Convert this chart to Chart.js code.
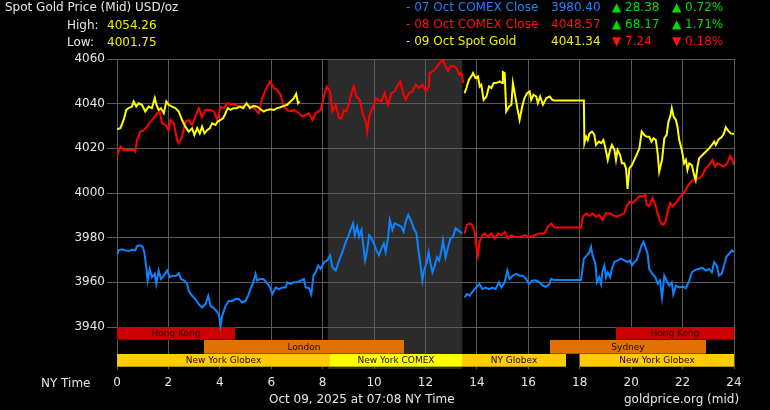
<!DOCTYPE html>
<html>
<head>
<meta charset="utf-8">
<title>Spot Gold Price</title>
<script src="https://cdn.jsdelivr.net/npm/chart.js@4.4.0/dist/chart.umd.min.js"></script>
<style>
  html, body { margin: 0; padding: 0; background: #000; }
  #wrap { position: relative; width: 770px; height: 410px; font-family: "DejaVu Sans", sans-serif; font-size: 12px; color: #e6e6e6; }
  #wrap canvas { position: absolute; left: 0; top: 0; }
  .t { position: absolute; white-space: nowrap; line-height: 14px; }
  .yel { color: #f0f000; }
  .blu { color: #1a86ff; }
  .red { color: #ff1010; }
  .grn { color: #00dd00; }
</style>
</head>
<body>
<div id="wrap">
  <canvas id="goldChart" width="770" height="410"></canvas>

  <div class="t" style="left:5px;top:0px">Spot Gold Price (Mid) USD/oz</div>
  <div class="t" style="left:67px;top:18px">High:</div>
  <div class="t yel" style="left:107px;top:18px">4054.26</div>
  <div class="t" style="left:67px;top:35px">Low:</div>
  <div class="t yel" style="left:107px;top:35px">4001.75</div>

  <div class="t blu" style="left:406px;top:0px">- 07 Oct COMEX Close</div>
  <div class="t blu" style="left:551px;top:0px">3980.40</div>
  <div class="t grn" style="left:612px;top:0px">▲ 28.38</div>
  <div class="t grn" style="left:672px;top:0px">▲ 0.72%</div>

  <div class="t red" style="left:406px;top:17px">- 08 Oct COMEX Close</div>
  <div class="t red" style="left:551px;top:17px">4048.57</div>
  <div class="t grn" style="left:612px;top:17px">▲ 68.17</div>
  <div class="t grn" style="left:672px;top:17px">▲ 1.71%</div>

  <div class="t yel" style="left:406px;top:34px">- 09 Oct Spot Gold</div>
  <div class="t yel" style="left:551px;top:34px">4041.34</div>
  <div class="t red" style="left:612px;top:34px">▼ 7.24</div>
  <div class="t red" style="left:672px;top:34px">▼ 0.18%</div>

  <div class="t" style="left:41px;top:376px">NY Time</div>
  <div class="t" style="left:269px;top:392px">Oct 09, 2025 at 07:08 NY Time</div>
  <div class="t" style="left:624px;top:392px">goldprice.org (mid)</div>
</div>

<script>
// y axis ticks
const yTicks = [3940, 3960, 3980, 4000, 4020, 4040, 4060];

// 07 Oct COMEX close (blue)
const oct07Hours = [0,0.06,0.19,0.32,0.45,0.58,0.71,0.78,0.91,1.0,1.06,1.14,1.19,1.27,1.36,1.47,1.53,1.62,1.71,1.82,1.95,2.05,2.18,2.31,2.40,2.49,2.62,2.73,2.79,2.92,3.05,3.18,3.31,3.44,3.55,3.64,3.74,3.87,3.96,4.03,4.09,4.22,4.35,4.48,4.61,4.74,4.87,5.0,5.10,5.19,5.30,5.39,5.45,5.56,5.69,5.82,5.95,6.04,6.17,6.30,6.43,6.56,6.62,6.75,6.88,7.01,7.14,7.27,7.34,7.47,7.56,7.64,7.73,7.82,7.92,8.05,8.18,8.29,8.38,8.51,8.64,8.77,8.90,8.99,9.08,9.18,9.25,9.34,9.42,9.51,9.57,9.65,9.73,9.81,9.90,9.99,10.09,10.19,10.28,10.38,10.45,10.54,10.61,10.71,10.80,10.93,11.06,11.15,11.23,11.33,11.45,11.54,11.65,11.71,11.80,11.88,11.94,12.03,12.12,12.19,12.27,12.36,12.45,12.53,12.62,12.68,12.78,12.88,12.97,13.07,13.17,13.26,13.35,13.43,13.5,13.52,13.61,13.72,13.85,13.97,14.10,14.21,14.34,14.47,14.60,14.73,14.86,14.95,15.08,15.18,15.27,15.40,15.53,15.66,15.79,15.92,16.02,16.15,16.31,16.44,16.56,16.69,16.82,16.89,17.02,18.05,18.16,18.28,18.38,18.44,18.50,18.61,18.67,18.76,18.83,18.89,18.96,19.02,19.09,19.18,19.25,19.35,19.47,19.60,19.73,19.86,19.95,20.03,20.12,20.21,20.32,20.41,20.48,20.55,20.64,20.70,20.83,20.94,21.03,21.12,21.20,21.29,21.38,21.48,21.58,21.64,21.74,21.87,22.0,22.13,22.26,22.36,22.49,22.62,22.77,22.90,23.03,23.14,23.23,23.33,23.42,23.52,23.61,23.71,23.81,23.91,24];
const oct07Prices = [3972.1,3974.3,3974.8,3974.3,3974,3974.6,3974.3,3976.3,3976.6,3975.9,3973.6,3966.8,3960.8,3966,3962.3,3963.8,3959.3,3965.3,3961.5,3963,3965.3,3962.3,3963,3963,3964.1,3961.5,3960.8,3959.3,3956.2,3954,3952.5,3950.2,3948.7,3950.2,3954,3949.4,3948.7,3947.2,3945.7,3940.5,3944.9,3949.4,3951.7,3951.7,3952.5,3952.5,3951,3951.7,3954,3957,3960,3963.8,3960.8,3961.5,3961.5,3960,3957.7,3954.7,3957.7,3957,3957.7,3957.7,3960,3959.3,3960,3960,3960.8,3961.5,3957.7,3957.4,3954.7,3963,3964.5,3967.5,3966,3969,3969.8,3972.1,3966.8,3965.3,3969.8,3973.6,3978.1,3980.4,3983.4,3986.4,3981.1,3984.9,3980.4,3983.4,3977.4,3969.8,3974.3,3981.1,3979.6,3977.4,3974.3,3972.1,3975.1,3977.4,3973.6,3979.6,3987.9,3983.4,3986.4,3985.7,3984.9,3982.6,3987.2,3990.2,3987.2,3984.2,3981.9,3975.9,3968.3,3960.8,3965.3,3968.3,3973.6,3968.8,3964.5,3967.5,3971.3,3969.8,3974.3,3978.9,3971.3,3975.9,3979.6,3980.4,3984.2,3983.4,3982.6,3981.9,null,3953.2,3954.7,3954,3956.2,3957.7,3959.3,3957,3957.7,3957,3957.7,3957,3960,3957.7,3960,3965.3,3961.5,3963,3963.8,3963,3963,3961.5,3959.3,3960.8,3960.8,3960,3958.5,3958,3959.3,3961.5,3961,3961,3970.6,3972.1,3973.6,3975.9,3972.1,3968.3,3960,3962.3,3959.3,3965.3,3967.5,3962.3,3964.5,3962.3,3966,3969.1,3969.8,3970.6,3969.8,3969.1,3969.8,3967.5,3969.1,3969.8,3973.6,3976.6,3978.1,3975.9,3972.8,3966,3963.8,3962.3,3959.3,3960.8,3953.2,3963,3960.8,3958.5,3960,3954.7,3958.5,3957.7,3958,3957.4,3960.8,3964.5,3965.6,3966,3966.5,3965.3,3966,3964.5,3969.1,3967.5,3963,3963.8,3967.5,3971.6,3972.8,3974.3,3973.6];

// 08 Oct COMEX close (red)
const oct08Hours = [0,0.13,0.26,0.65,0.71,0.78,0.91,1.04,1.17,1.30,1.43,1.56,1.66,1.75,1.88,2.01,2.08,2.21,2.34,2.40,2.53,2.66,2.79,2.92,3.05,3.18,3.31,3.44,3.64,3.77,3.90,4.03,4.16,4.29,4.55,4.81,5.06,5.32,5.52,5.65,5.78,5.95,6.10,6.23,6.36,6.49,6.62,6.75,6.88,7.08,7.21,7.34,7.47,7.60,7.73,7.92,8.05,8.16,8.29,8.38,8.51,8.64,8.73,8.82,8.92,9.03,9.12,9.21,9.31,9.44,9.57,9.68,9.73,9.81,9.90,9.96,10.06,10.16,10.28,10.41,10.54,10.67,10.80,10.93,11.02,11.13,11.23,11.36,11.49,11.62,11.75,11.88,12.01,12.13,12.16,12.29,12.42,12.55,12.68,12.75,12.88,12.97,13.10,13.20,13.31,13.39,13.48,13.5,13.52,13.61,13.72,13.82,13.91,13.97,14.04,14.10,14.21,14.30,14.43,14.56,14.69,14.82,14.95,15.08,15.21,15.34,15.47,15.66,15.86,16.05,16.25,16.44,16.63,16.76,16.89,17.02,18.05,18.12,18.25,18.38,18.50,18.63,18.76,18.89,19.02,19.15,19.28,19.44,19.60,19.73,19.82,19.93,20.06,20.19,20.32,20.45,20.55,20.60,20.70,20.83,20.94,21.03,21.12,21.22,21.32,21.42,21.52,21.61,21.74,21.87,21.97,22.10,22.19,22.32,22.51,22.64,22.77,22.90,23.03,23.16,23.26,23.36,23.49,23.61,23.74,23.85,23.94,24];
const oct08Prices = [4016.6,4020.8,4019.3,4019.3,4018.5,4023.7,4027.5,4028,4029.7,4032,4033.5,4035.7,4036.5,4031.2,4030.5,4028.2,4032.7,4031.2,4023.7,4022.3,4025.2,4032,4032.7,4030.5,4034.2,4038,4034,4037.2,4037.2,4036.5,4032.7,4038.7,4038,4040.2,4039.5,4038.7,4039.5,4038,4035.7,4042.5,4046.2,4050,4047,4046.2,4044,4038.7,4037.2,4036.5,4037.2,4035.7,4034.2,4035,4035.7,4032.7,4035.7,4037.2,4043.2,4047.7,4045.5,4036.5,4039.5,4033.5,4033.5,4037.2,4036.5,4040.2,4044.7,4047.7,4043.2,4041.7,4035,4032,4027.5,4034.2,4037.2,4038,4042.5,4041.7,4041,4044.7,4039.5,4044.7,4045.5,4048.5,4050,4044.7,4041.7,4044.7,4045.5,4048.5,4047,4048.5,4045.5,4047.7,4053.7,4054.5,4056,4058.2,4059.7,4057.5,4054.5,4056.8,4056.8,4056,4053,4053.7,4049.2,null,3981.9,3985.7,3986.4,3985.7,3982.6,3976.6,3972.1,3978.1,3981.1,3981.9,3980.3,3981.9,3979.6,3981.9,3981.1,3982.6,3979.6,3981.1,3980.3,3980.3,3981.1,3980.3,3981.1,3981.9,3981.9,3984.9,3986.4,3984.5,3984.5,3989.4,3990.9,3989.7,3990.9,3989.4,3990.2,3987.9,3990.9,3990.9,3990.2,3989.4,3990.2,3990.9,3994,3996.2,3995.5,3997,3998.5,3998.5,3999.2,3994.7,3994,3997.7,3994.7,3990.9,3987.2,3985.7,3986.4,3991.7,3995.5,3994,3995.5,3997.7,3999.2,4000.8,4003,4005,4006.5,4006.5,4008,4011,4012.5,4014.8,4011.8,4013.3,4012.5,4011.8,4013.3,4016.6,4014.8,4012.5];

// 09 Oct spot gold (yellow)
const oct09Hours = [0,0.13,0.26,0.36,0.45,0.58,0.65,0.75,0.84,0.97,1.10,1.23,1.36,1.47,1.53,1.62,1.71,1.82,1.92,2.01,2.14,2.27,2.40,2.53,2.66,2.79,2.92,3.01,3.12,3.22,3.31,3.40,3.51,3.61,3.70,3.83,3.92,4.03,4.13,4.22,4.31,4.42,4.52,4.65,4.78,4.91,5.04,5.17,5.30,5.45,5.58,5.71,5.84,5.97,6.10,6.23,6.36,6.49,6.62,6.75,6.88,6.97,7.04,7.10,10,13.52,13.59,13.69,13.78,13.85,13.94,14.04,14.11,14.17,14.26,14.37,14.47,14.56,14.65,14.75,14.88,14.99,15.01,15.08,15.14,15.25,15.34,15.40,15.47,15.56,15.66,15.76,15.85,15.95,16.05,16.11,16.20,16.31,16.37,16.46,16.57,16.70,16.83,16.93,17.02,18.16,18.18,18.25,18.31,18.38,18.48,18.57,18.63,18.74,18.83,18.92,19.00,19.09,19.18,19.25,19.35,19.41,19.47,19.57,19.64,19.73,19.80,19.86,19.93,20.03,20.12,20.21,20.32,20.41,20.51,20.60,20.70,20.79,20.87,20.96,21.03,21.09,21.20,21.29,21.38,21.45,21.52,21.58,21.65,21.74,21.80,21.87,21.97,22.06,22.13,22.19,22.26,22.36,22.45,22.51,22.58,22.64,22.77,22.90,23.03,23.14,23.23,23.29,23.40,23.52,23.61,23.68,23.78,23.87,24];
const oct09Prices = [4028.5,4029,4032.7,4037.2,4038,4038.7,4041,4038.7,4040.2,4039.5,4036.5,4038.7,4038,4042.5,4039.5,4037.2,4038,4035.7,4041,4039.5,4038.7,4038,4036.5,4032.7,4029.7,4027.5,4029,4026,4029,4026.7,4029.7,4026.7,4028.2,4029,4031.2,4030.5,4032,4032.7,4033.5,4035.7,4038,4037.2,4038,4038,4038.7,4038,4040.2,4038,4039,4038.7,4037.5,4036.5,4037.2,4037.5,4037.2,4038,4038.4,4039,4039.5,4041,4042.5,4044.4,4040.2,4041,null,4044.7,4047,4050.7,4052.2,4053.7,4051.5,4052.2,4047.7,4048.5,4041.7,4043.2,4047.7,4047,4049.2,4049.2,4050,4049.2,4054.2,4053.7,4036.5,4038.7,4039.5,4049.2,4044.7,4038.7,4032.7,4038.7,4042.5,4044.7,4045.5,4041.7,4044,4043.2,4040.2,4043.2,4039.5,4042.5,4043.2,4041.7,4041.4,4041.4,4022.3,4025.2,4023.7,4026.7,4027.5,4026,4021.5,4023,4022.3,4023.7,4020,4014.8,4019.3,4021.5,4019.3,4014.8,4019.3,4017,4013.3,4013.3,4011,4001.8,4011,4012.5,4014.8,4017,4020,4027.5,4026,4025.2,4025.2,4023,4024.5,4023.7,4017.8,4009.5,4014.8,4024.5,4026,4032,4034.2,4038,4034.2,4032.7,4029.7,4023.7,4019.3,4013.3,4014.8,4010.3,4013.3,4012.5,4008,4005.8,4011.8,4015.5,4017,4018.5,4020,4021.5,4023,4021.5,4024,4025,4026.7,4029.4,4027.8,4026.7,4026.4];

// trading sessions (hours NY time), row 0 = top
const sessionNames = ['Hong Kong', 'Hong Kong', 'London', 'Sydney', 'New York Globex', 'New York COMEX', 'NY Globex', 'New York Globex'];
const sessionStart = [0, 19.42, 3.38, 16.85, 0, 8.27, 13.43, 18.0];
const sessionEnd   = [4.6, 24, 11.18, 22.9, 8.27, 13.43, 17.47, 24];
const sessionRow   = [0, 0, 1, 1, 2, 2, 2, 2];
const sessionColor = ['#cc0000', '#cc0000', '#e27200', '#e27200', '#ffcc00', '#ffff00', '#ffcc00', '#ffcc00'];

// COMEX hours shading
const comexShade = [8.2, 13.43];

function toPoints(hours, prices) {
    return hours.map((h, i) => ({ x: h, y: prices[i] }));
}

const shadePlugin = {
    id: 'comexShade',
    beforeDraw(chart) {
        const { ctx, chartArea, scales } = chart;
        const x0 = scales.x.getPixelForValue(comexShade[0]);
        const x1 = scales.x.getPixelForValue(comexShade[1]);
        ctx.save();
        ctx.fillStyle = '#2b2b2b';
        ctx.fillRect(x0, chartArea.top, x1 - x0, chartArea.bottom - chartArea.top);
        ctx.restore();
    }
};

const sessionPlugin = {
    id: 'sessionBars',
    beforeDatasetsDraw(chart) {
        const { ctx, scales } = chart;
        const rowTop = [3940, 3934, 3928];
        ctx.save();
        ctx.font = '9px "DejaVu Sans"';
        ctx.textAlign = 'center';
        ctx.textBaseline = 'middle';
        sessionNames.forEach((name, i) => {
            const x0 = Math.round(scales.x.getPixelForValue(sessionStart[i]));
            const x1 = Math.round(scales.x.getPixelForValue(sessionEnd[i]));
            const y0 = Math.round(scales.y.getPixelForValue(rowTop[sessionRow[i]]));
            const y1 = Math.round(scales.y.getPixelForValue(rowTop[sessionRow[i]] - 6));
            ctx.fillStyle = sessionColor[i];
            ctx.fillRect(x0, y0, x1 - x0, y1 - y0);
            // darker bottom edge
            ctx.fillStyle = 'rgba(0,0,0,0.3)';
            ctx.fillRect(x0, y1 - 1, x1 - x0, 1);
            ctx.fillStyle = '#1e0800';
            ctx.fillText(name, (x0 + x1) / 2, (y0 + y1) / 2 + 0.5);
        });
        ctx.restore();
    }
};

const tickFont = { family: 'DejaVu Sans', size: 12 };

new Chart(document.getElementById('goldChart'), {
    type: 'line',
    data: {
        datasets: [
            { label: '09 Oct Spot Gold', data: toPoints(oct09Hours, oct09Prices), borderColor: '#ffff00' },
            { label: '08 Oct COMEX Close', data: toPoints(oct08Hours, oct08Prices), borderColor: '#ff0000' },
            { label: '07 Oct COMEX Close', data: toPoints(oct07Hours, oct07Prices), borderColor: '#0a84ff' }
        ]
    },
    options: {
        responsive: false,
        animation: false,
        devicePixelRatio: 1,
        spanGaps: false,
        elements: {
            line: { borderWidth: 2, tension: 0 },
            point: { radius: 0, hoverRadius: 0 }
        },
        layout: { padding: { top: 59, right: 36, left: 0, bottom: 0 } },
        plugins: {
            legend: { display: false },
            tooltip: { enabled: false }
        },
        scales: {
            x: {
                type: 'linear',
                min: 0,
                max: 24,
                afterFit: s => { s.height = 41; },
                ticks: { stepSize: 2, color: '#e6e6e6', font: tickFont, padding: 7, maxRotation: 0, callback: v => String(v) },
                grid: { color: '#5a5a5a', drawTicks: false },
                border: { display: false }
            },
            y: {
                min: 3921.2,
                max: 4060,
                afterFit: s => { s.width = 117; },
                afterBuildTicks: s => { s.ticks = yTicks.map(v => ({ value: v })); },
                ticks: { color: '#e6e6e6', font: tickFont, padding: 2, callback: v => String(v) },
                grid: { color: '#5a5a5a', tickLength: 10, drawTicks: true, tickColor: '#5a5a5a' },
                border: { color: '#5a5a5a' }
            }
        }
    },
    plugins: [shadePlugin, sessionPlugin]
});
</script>
</body>
</html>
